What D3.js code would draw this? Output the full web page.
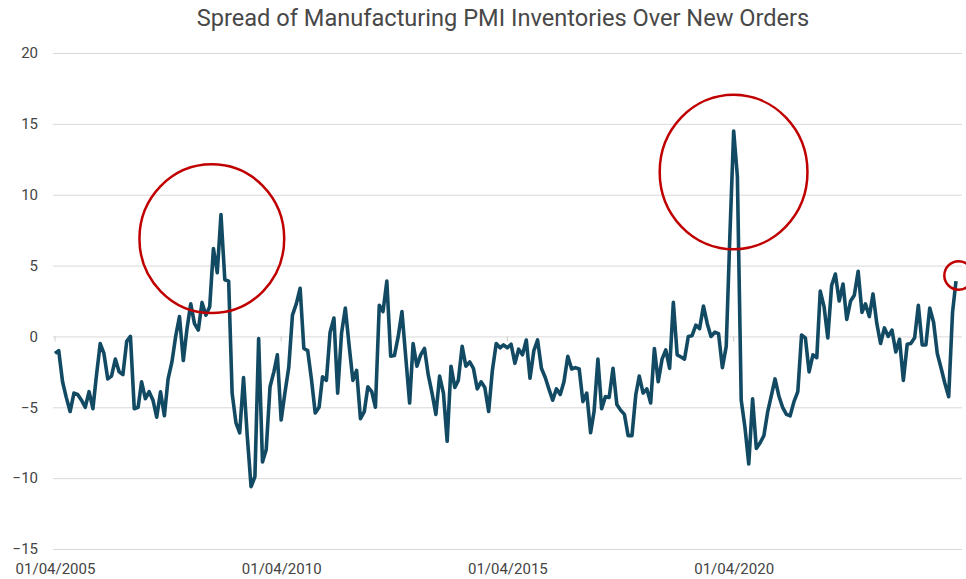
<!DOCTYPE html>
<html>
<head>
<meta charset="utf-8">
<script src="https://cdn.jsdelivr.net/npm/d3@7"></script>
<style>
  body { margin: 0; background: #fff; }
  text { font-family: Roboto, "Noto Sans", sans-serif; }
</style>
</head>
<body>
<div id="vis"></div>
<script>
// monthly spread, first month = April 2005
const startMonth = new Date(2005, 3, 1);
const spread = [
  -1.2, -1.0, -3.2, -4.3, -5.3, -4.0, -4.1, -4.5, -5.0, -3.9,
  -5.1, -2.8, -0.5, -1.2, -3.0, -2.8, -1.6, -2.5, -2.7, -0.35,
  0.0, -5.1, -5.0, -3.2, -4.4, -3.9, -4.5, -5.7, -3.9, -5.6,
  -3.0, -1.8, 0.0, 1.4, -1.7, 0.5, 2.3, 0.9, 0.45, 2.4,
  1.5, 2.1, 6.2, 4.5, 8.6, 4.0, 3.9, -4.0, -6.1, -6.8,
  -2.9, -7.0, -10.6, -9.9, -0.15, -8.85, -8.0, -3.55, -2.5, -1.3,
  -5.9, -4.0, -2.2, 1.5, 2.3, 3.4, -0.85, -1.0, -3.0, -5.4,
  -5.0, -2.85, -3.1, 0.3, 1.3, -4.0, 0.2, 2.0, -0.6, -3.1,
  -2.4, -5.8, -5.3, -3.55, -3.9, -5.0, 2.2, 1.75, 3.9, -1.4,
  -1.35, 0.0, 1.75, -1.5, -4.7, -0.5, -2.1, -1.3, -0.85, -2.7,
  -4.0, -5.5, -2.8, -4.0, -7.4, -2.1, -3.6, -3.1, -0.7, -2.1,
  -1.8, -2.25, -3.7, -3.2, -3.6, -5.3, -2.4, -0.5, -0.8, -0.6,
  -0.8, -0.55, -1.9, -0.9, -1.3, -0.25, -2.95, -1.0, -0.25, -2.25,
  -2.9, -3.7, -4.5, -3.7, -4.1, -3.2, -1.4, -2.3, -2.2, -2.3,
  -4.6, -4.0, -6.8, -5.3, -1.6, -5.1, -4.25, -4.3, -2.25, -4.8,
  -5.2, -5.5, -7.0, -7.0, -4.1, -2.8, -4.0, -3.7, -4.7, -0.85,
  -3.2, -1.6, -0.95, -2.25, 2.4, -1.3, -1.45, -1.6, 0.0, 0.05,
  0.8, 0.55, 2.15, 0.9, 0.0, 0.3, 0.2, -2.2, -0.7, 7.0,
  14.5, 11.3, -4.5, -6.4, -9.0, -4.4, -7.9, -7.5, -7.0, -5.3,
  -4.1, -3.0, -4.2, -5.0, -5.5, -5.6, -4.6, -3.9, 0.1, -0.1,
  -2.5, -1.3, -1.5, 3.2, 2.1, -0.1, 3.6, 4.4, 2.5, 3.7,
  1.2, 2.5, 2.9, 4.6, 1.7, 2.3, 1.4, 3.0, 0.9, -0.5,
  0.6, 0.0, 0.45, -1.1, -0.2, -3.1, -0.55, -0.5, -0.1, 2.2,
  -0.6, -0.6, 2.0, 1.0, -1.2, -2.25, -3.3, -4.25, 1.7, 3.9
];
const yTicks = [-15, -10, -5, 0, 5, 10, 15, 20];
const xTickLabels = ['01/04/2005', '01/04/2010', '01/04/2015', '01/04/2020'];
// highlighted spots: month index, value, radius in months / units
const circleMonth = [41.6, 180, 239.7];
const circleValue = [6.9, 11.6, 4.3];
const circleRx = [19.2, 19.6, 3.8];
const circleRy = [5.25, 5.45, 1.0];

const W = 966, H = 579;

const data = spread.map((v, i) => ({date: d3.timeMonth.offset(startMonth, i), value: v}));

const svg = d3.select('#vis')
  .append('svg')
  .attr('width', W)
  .attr('height', H);

const xScale = d3.scaleTime()
  .domain([startMonth, d3.timeMonth.offset(startMonth, spread.length - 1)])
  .range([55, 956]);

const yScale = d3.scaleLinear()
  .domain([-15, 20])
  .range([549, 53]);

// title
svg.append('text')
  .attr('x', 503)
  .attr('y', 26)
  .attr('text-anchor', 'middle')
  .style('font-size', '23.6px')
  .style('fill', '#484848')
  .text('Spread of Manufacturing PMI Inventories Over New Orders');

// grid + y labels
const yAxis = d3.axisLeft(yScale)
  .tickValues(yTicks)
  .tickSize(-(962 - 53))
  .tickPadding(15)
  .tickFormat(d3.format('d'));

const yG = svg.append('g')
  .attr('transform', 'translate(53,0)')
  .call(yAxis);
yG.select('.domain').remove();
yG.selectAll('.tick line').attr('stroke', '#d9d9d9').attr('stroke-width', 1);
yG.selectAll('.tick text')
  .style('font-size', '15px')
  .style('fill', '#444');

// x axis labels at bottom
const xTicks = xTickLabels.map(s => d3.timeParse('%d/%m/%Y')(s));
const xAxis = d3.axisBottom(xScale)
  .tickValues(xTicks)
  .tickSize(0)
  .tickPadding(14)
  .tickFormat(d3.timeFormat('%d/%m/%Y'));

const xG = svg.append('g')
  .attr('transform', `translate(0,${yScale(-15)})`)
  .call(xAxis);
xG.select('.domain').remove();
xG.selectAll('.tick text')
  .style('font-size', '15px')
  .style('fill', '#444');

// small tick marks on the zero line
svg.selectAll('.zero-tick')
  .data(xTicks)
  .join('line')
  .attr('class', 'zero-tick')
  .attr('x1', d => xScale(d))
  .attr('x2', d => xScale(d))
  .attr('y1', yScale(0))
  .attr('y2', yScale(0) + 5)
  .attr('stroke', '#ccc');

// the series
const line = d3.line()
  .x(d => xScale(d.date))
  .y(d => yScale(d.value));

svg.append('path')
  .datum(data)
  .attr('fill', 'none')
  .attr('stroke', '#124a63')
  .attr('stroke-width', 3.6)
  .attr('stroke-linejoin', 'round')
  .attr('d', line);

// red highlight circles
const pxPerMonth = (xScale.range()[1] - xScale.range()[0]) / (spread.length - 1);
const pxPerUnit = yScale(0) - yScale(1);
svg.selectAll('.hl')
  .data(circleMonth.map((m, i) => ({m, v: circleValue[i], rx: circleRx[i], ry: circleRy[i]})))
  .join('ellipse')
  .attr('class', 'hl')
  .attr('cx', d => xScale.range()[0] + d.m * pxPerMonth)
  .attr('cy', d => yScale(d.v))
  .attr('rx', d => d.rx * pxPerMonth)
  .attr('ry', d => d.ry * pxPerUnit)
  .attr('fill', 'none')
  .attr('stroke', '#c00000')
  .attr('stroke-width', 2.5);
</script>
</body>
</html>
